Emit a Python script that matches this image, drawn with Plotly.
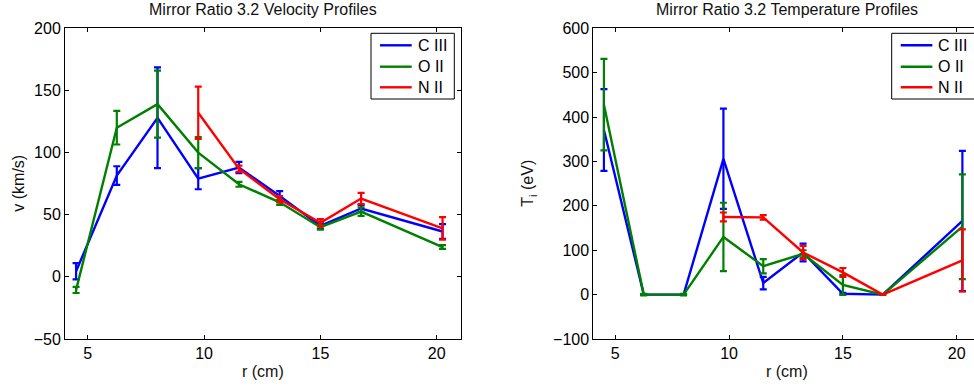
import plotly.graph_objects as go

# Radial positions (cm)
r_all = [4.5, 6.25, 8.0, 9.75, 11.5, 13.25, 15.0, 16.75, 20.25]
r_nii = [9.75, 11.5, 13.25, 15.0, 16.75, 20.25]

# Velocity profiles (km/s) and their uncertainties
v_ciii = [4.5, 81.5, 128, 79, 88, 65, 41, 55, 36.5]
v_ciii_err = [6.5, 7.5, 40.5, 8.5, 4.5, 4, 2.5, 3, 6]
v_oii = [-10.5, 120, 139, 100, 74.5, 60, 40, 52.5, 24]
v_oii_err = [2.5, 13.5, 27, 12.5, 2, 2, 2, 3.5, 1.5]
v_nii = [132, 87, 62.5, 43.5, 63, 39]
v_nii_err = [21, 2.5, 2.5, 3, 4.5, 9]

# Ion temperature profiles (eV) and their uncertainties
t_ciii = [371, 0, 0, 306, 26, 95, 2, 0, 166]
t_ciii_err = [92, 0.5, 0.5, 113, 14, 20, 2, 0, 158]
t_oii = [428, 0, 0, 130, 64, 92, 22, 0, 153]
t_oii_err = [103, 1.5, 1.5, 77, 16, 8, 22, 0, 118]
t_nii = [175, 174, 95, 50, 0, 77]
t_nii_err = [10, 5, 15, 10, 0, 70]

species = ["C III", "O II", "N II"]
colors = ["#0000FF", "#008000", "#FF0000"]

W, H = 974, 387
FONT = "Liberation Sans, Arial, Helvetica, sans-serif"


def px_x(p):
    return p / W


def px_y(p):
    return 1 - p / H


fig = go.Figure()

vel = [(r_all, v_ciii, v_ciii_err), (r_all, v_oii, v_oii_err), (r_nii, v_nii, v_nii_err)]
tmp = [(r_all, t_ciii, t_ciii_err), (r_all, t_oii, t_oii_err), (r_nii, t_nii, t_nii_err)]

for panel, (xa, ya) in zip((vel, tmp), (("x", "y"), ("x2", "y2"))):
    for (x, y, e), name, c in zip(panel, species, colors):
        fig.add_trace(go.Scatter(
            x=x, y=y, name=name, mode="lines", showlegend=False,
            line=dict(color=c, width=2.4),
            error_y=dict(type="data", array=e, visible=True, color=c, thickness=2.2, width=3.5),
            xaxis=xa, yaxis=ya,
        ))

axis_common = dict(
    showgrid=False, zeroline=False, showline=True, linecolor="black", linewidth=1,
    ticks="inside", ticklen=4, tickcolor="black", tickwidth=1,
    tickfont=dict(family=FONT, size=16, color="black"),
)

ydom = [px_y(339), px_y(28.3)]

fig.update_layout(
    width=W, height=H,
    margin=dict(l=0, r=0, t=0, b=0, autoexpand=False),
    paper_bgcolor="white", plot_bgcolor="white",
    xaxis=dict(domain=[px_x(65), px_x(460.7)], range=[4.024, 21.03],
               tickvals=[5, 10, 15, 20], mirror="ticks", anchor="y", **axis_common),
    yaxis=dict(domain=ydom, range=[-50, 200], tickvals=[-50, 0, 50, 100, 150, 200],
               mirror="ticks", anchor="x", **axis_common),
    xaxis2=dict(domain=[px_x(593.3), 1.0], range=[4.033, 20.76],
                tickvals=[5, 10, 15, 20], mirror="ticks", anchor="y2", **axis_common),
    yaxis2=dict(domain=ydom, range=[-100, 600], tickvals=[-100, 0, 100, 200, 300, 400, 500, 600],
                mirror=False, anchor="x2", **axis_common),
    showlegend=False,
)

ann_font = dict(family=FONT, size=16, color="#111111")
annotations = [
    dict(text="Mirror Ratio 3.2 Velocity Profiles", x=px_x(262.8), y=px_y(9)),
    dict(text="Mirror Ratio 3.2 Temperature Profiles", x=px_x(786.7), y=px_y(9)),
    dict(text="r (cm)", x=px_x(262.8), y=px_y(371.7)),
    dict(text="r (cm)", x=px_x(786.7), y=px_y(371.7)),
    dict(text="v (km/s)", x=px_x(19), y=px_y(183.7), textangle=-90),
    dict(text="T<sub>i</sub> (eV)", x=px_x(529), y=px_y(183.7), textangle=-90),
]
for a in annotations:
    fig.add_annotation(xref="paper", yref="paper", showarrow=False,
                       xanchor="center", yanchor="middle", font=ann_font, **a)

# Legend boxes: one per panel, each with a line sample and label per species
row_y = [45.3, 66.7, 87.3]
for left in (371.0, 891.7):
    fig.add_shape(type="rect", xref="paper", yref="paper", layer="above",
                  x0=px_x(left), x1=px_x(left + 83.3), y0=px_y(99), y1=px_y(33.3),
                  fillcolor="white", line=dict(color="black", width=1))
    for name, c, ry in zip(species, colors, row_y):
        fig.add_shape(type="line", xref="paper", yref="paper", layer="above",
                      x0=px_x(left + 9), x1=px_x(left + 40.7), y0=px_y(ry), y1=px_y(ry),
                      line=dict(color=c, width=2.4))
        fig.add_annotation(xref="paper", yref="paper", showarrow=False,
                           x=px_x(left + 44.5), y=px_y(ry), xanchor="left", yanchor="middle",
                           text=name, font=dict(family=FONT, size=16, color="black"))

fig.write_html("out.html")
